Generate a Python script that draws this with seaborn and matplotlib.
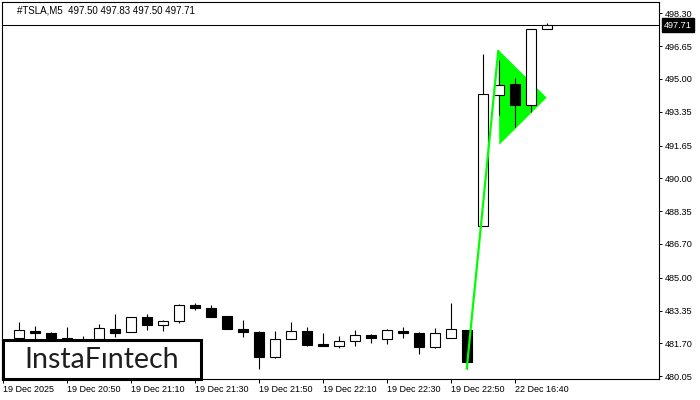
import matplotlib
matplotlib.use("Agg")
import numpy as np
import pandas as pd
import seaborn as sns
import matplotlib.pyplot as plt
from matplotlib.patches import Rectangle, Polygon

# ---- data ----
opens = [481.95, 482.34, 482.21, 481.98, 481.75, 481.90, 482.43, 482.28, 483.03, 482.62,
         482.81, 483.64, 483.48, 483.10, 482.43, 482.26, 481.00, 481.93, 482.34, 481.69,
         481.57, 481.83, 482.13, 481.93, 482.34, 482.23, 481.50, 481.98, 482.39, 487.60,
         494.18, 494.75, 493.68, 497.50]
highs = [482.80, 482.59, 482.28, 482.54, 482.09, 482.70, 483.20, 483.03, 483.20, 482.88,
         483.69, 483.73, 483.65, 483.10, 482.89, 482.31, 482.34, 482.76, 482.54, 482.23,
         482.09, 482.39, 482.19, 482.44, 482.53, 482.29, 482.48, 483.73, 482.39, 496.26,
         495.95, 495.04, 497.50, 497.83]
lows = [481.80, 481.90, 481.85, 481.75, 481.50, 481.80, 482.01, 482.28, 482.39, 482.30,
        482.71, 483.36, 483.03, 482.41, 482.03, 480.43, 480.95, 481.93, 481.55, 481.57,
        481.45, 481.57, 481.72, 481.68, 481.96, 481.15, 481.45, 481.98, 480.40, 487.60,
        493.19, 492.60, 493.36, 497.50]
closes = [482.38, 482.22, 481.98, 481.85, 481.65, 482.46, 482.23, 483.03, 482.61, 482.83,
          483.65, 483.46, 483.03, 482.41, 482.28, 481.00, 481.93, 482.34, 481.60, 481.57,
          481.83, 482.13, 481.96, 482.38, 482.21, 481.50, 482.23, 482.43, 480.75, 494.25,
          494.68, 493.71, 497.50, 497.71]

xtick_pos = [-1, 3, 7, 11, 15, 19, 23, 27, 31]
xtick_labels = ["19 Dec 2025", "19 Dec 20:50", "19 Dec 21:10", "19 Dec 21:30",
                "19 Dec 21:50", "19 Dec 22:10", "19 Dec 22:30", "19 Dec 22:50",
                "22 Dec 16:40"]
ytick_vals = [498.30, 496.65, 495.00, 493.35, 491.65, 490.00, 488.35, 486.70,
              485.00, 483.35, 481.70, 480.05]
ytick_labels = ["498.30", "496.65", "495.00", "493.35", "491.65", "490.00", "488.35",
                "486.70", "485.00", "483.35", "481.70", "480.05"]

pennant_x = [29.94, 32.96, 30.00]
pennant_y = [496.46, 494.06, 491.69]
pole_x = [27.96, 29.94]
pole_y = [480.39, 496.46]

bid = 497.71
title = "#TSLA,M5  497.50 497.83 497.50 497.71"
logo = "InstaFıntech"

# ---- figure ----
sns.set_theme(style="white")
plt.rcParams['font.family'] = ['Liberation Sans', 'DejaVu Sans']

df = pd.DataFrame({"o": opens, "h": highs, "l": lows, "c": closes})
df["i"] = np.arange(len(df))
df["bull"] = df["c"] >= df["o"]
df["bottom"] = df[["o", "c"]].min(axis=1)
df["height"] = (df["c"] - df["o"]).abs().clip(lower=0.04)

fig = plt.figure(figsize=(7, 4), dpi=100)
ax = fig.add_axes([2 / 700, 21 / 400, 657 / 700, 377 / 400])
ax.set_facecolor("white")

# pennant triangle under candles
ax.add_patch(Polygon(list(zip(pennant_x, pennant_y)), closed=True,
                     facecolor="#00ff00", edgecolor="none", zorder=1))

# wicks
ax.vlines(df["i"], df["l"], df["h"], color="black", lw=0.8, zorder=2)
# bodies
bw = 0.64
bull = df[df["bull"]]
bear = df[~df["bull"]]
ax.bar(bull["i"], bull["height"], bottom=bull["bottom"], width=bw,
       color="white", edgecolor="black", linewidth=0.8, zorder=3)
ax.bar(bear["i"], bear["height"], bottom=bear["bottom"], width=bw,
       color="black", edgecolor="black", linewidth=0.8, zorder=3)

# pole line
ax.plot(pole_x, pole_y, color="#00ff00", lw=1.6, zorder=4, solid_capstyle="butt")

# bid line
ax.axhline(bid, color="black", lw=0.75, zorder=2)

ax.set_xlim(-1.08, 39.98)
ax.set_ylim(479.91, 498.87)

for s in ax.spines.values():
    s.set_visible(True)
    s.set_color("black")
    s.set_linewidth(0.8)

ax.yaxis.tick_right()
ax.set_yticks(ytick_vals)
ax.set_yticklabels(ytick_labels)
ax.tick_params(axis="y", which="both", direction="out", length=2.2, width=0.7,
               color="black", labelcolor="black", labelsize=6.6, pad=2, right=True, left=False)
ax.set_xticks(xtick_pos)
ax.set_xticklabels(xtick_labels, ha="left")
ax.tick_params(axis="x", which="both", direction="out", length=3, width=0.7,
               color="black", labelcolor="black", labelsize=6.5, pad=1.5, bottom=True)

# bid label box
ax.text(1.0 + 5 / 657, bid, "497.71", transform=ax.get_yaxis_transform(),
        ha="left", va="center", fontsize=6.6, color="white",
        bbox=dict(boxstyle="square,pad=0.25", fc="black", ec="black"),
        clip_on=False, zorder=10)

# title
fig.text(17 / 700, 1 - 10.7 / 400, title, ha="left", va="center",
         fontsize=7.0, color="black")

# logo
fig.add_artist(Rectangle((3 / 700, 21 / 400), 198 / 700, 39 / 400,
                         transform=fig.transFigure, facecolor="white",
                         edgecolor="black", linewidth=2.2, zorder=5))
fig.text(101.7 / 700, 1 - 359.5 / 400, logo, ha="center", va="center",
         fontsize=20.5, family=["Lato", "DejaVu Sans"], color="#1e1e1e", zorder=6)

fig.savefig("out.png", dpi=100)
